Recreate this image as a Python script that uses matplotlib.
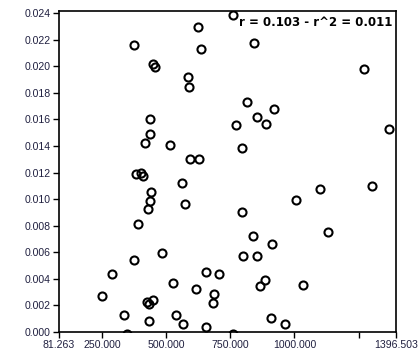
import numpy as np
import matplotlib
matplotlib.use("Agg")
import matplotlib.pyplot as plt

#%% values
x_vals = [760.4, 623.6, 373.3, 634.1, 842.5, 446.4, 455.4, 1269.9, 585.6, 589.5,
          814.0, 921.9, 435.9, 855.4, 772.1, 888.3, 1370.3, 435.9, 416.3, 514.1,
          796.8, 592.3, 627.5, 381.2, 400.7, 408.5, 561.0, 1303.9, 1100.6, 438.6,
          1006.7, 435.9, 572.7, 426.9, 794.4, 390.1, 1131.9, 838.6, 912.9, 484.8,
          799.5, 855.4, 373.3, 654.8, 288.5, 705.7, 524.6, 885.5, 866.0, 1035.3,
          615.7, 686.1, 249.4, 423.0, 446.4, 432.0, 682.2, 334.2, 537.5, 910.2,
          433.2, 566.1, 963.7, 654.8, 344.8, 761.6]
y_vals = [0.02387, 0.02297, 0.02159, 0.02131, 0.02174, 0.02018, 0.01993, 0.01980, 0.01922, 0.01842,
          0.01729, 0.01681, 0.01605, 0.01618, 0.01556, 0.01566, 0.01530, 0.01492, 0.01422, 0.01410,
          0.01385, 0.01302, 0.01302, 0.01189, 0.01198, 0.01174, 0.01119, 0.01098, 0.01073, 0.01055,
          0.00993, 0.00985, 0.00963, 0.00925, 0.00900, 0.00812, 0.00751, 0.00721, 0.00661, 0.00593,
          0.00571, 0.00571, 0.00538, 0.00455, 0.00437, 0.00439, 0.00369, 0.00390, 0.00344, 0.00352,
          0.00320, 0.00288, 0.00267, 0.00229, 0.00237, 0.00211, 0.00216, 0.00131, 0.00131, 0.00103,
          0.00081, 0.00060, 0.00058, 0.00035, -0.00012, -0.00012]

x_ticks = [81.263, 250.0, 500.0, 750.0, 1000.0, 1250.0, 1396.503]
x_ticklabels = ["81.263", "250.000", "500.000", "750.000", "1000.000", "", "1396.503"]
y_ticks = np.arange(0, 0.0241, 0.002)
stats_text = "r = 0.103 - r^2 = 0.011"

#%% plot
tick_col = "#202040"
fig = plt.figure(figsize=(4.2, 3.6), dpi=100)
ax = fig.add_axes([0.1405, 0.078, 0.8025, 0.8915])

ax.plot(x_vals, y_vals, "o", markersize=5.8, markerfacecolor="none",
        markeredgecolor="black", markeredgewidth=1.5)

ax.set_xlim(81.263, 1396.503)
ax.set_ylim(0, 0.02417)
ax.set_xticks(x_ticks)
ax.set_xticklabels(x_ticklabels)
ax.set_yticks(y_ticks)
ax.set_yticklabels(["%.3f" % v for v in y_ticks])
ax.tick_params(direction="out", length=4, width=1, colors="black",
               labelcolor=tick_col, labelsize=7.6, pad=2)
for lab in ax.get_xticklabels() + ax.get_yticklabels():
    lab.set_family("Liberation Sans")

for s in ax.spines.values():
    s.set_linewidth(1.2)
    s.set_color("black")

ax.text(0.988, 0.984, stats_text, transform=ax.transAxes, ha="right", va="top",
        fontsize=8.5, fontweight="bold", color="black")

plt.savefig("out.png", dpi=100)
